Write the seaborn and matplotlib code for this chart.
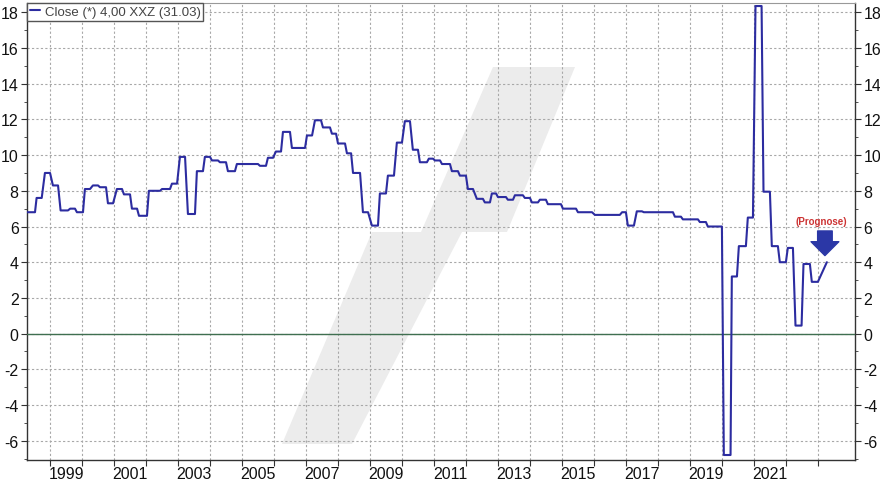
import matplotlib
matplotlib.use("Agg")
import matplotlib.pyplot as plt
import numpy as np
import pandas as pd
import seaborn as sns
from matplotlib.patches import Polygon
from matplotlib.ticker import FixedLocator, FixedFormatter, NullFormatter

# ---------------- data (decimal years, values) ----------------
level_start = [1998.27, 1998.58, 1998.84, 1999.09, 1999.33, 1999.63, 1999.84, 2000.09, 2000.34, 2000.56,
               2000.81, 2001.09, 2001.31, 2001.56, 2001.78, 2002.09, 2002.50, 2002.81, 2003.06, 2003.31,
               2003.59, 2003.84, 2004.06, 2004.31, 2004.56, 2004.84, 2005.56, 2005.81, 2006.06, 2006.28,
               2006.56, 2007.03, 2007.28, 2007.53, 2007.81, 2008.00, 2008.28, 2008.47, 2008.78, 2009.06,
               2009.31, 2009.56, 2009.84, 2010.09, 2010.34, 2010.56, 2010.84, 2011.03, 2011.25, 2011.56,
               2011.81, 2012.06, 2012.34, 2012.59, 2012.81, 2013.00, 2013.31, 2013.53, 2013.84, 2014.06,
               2014.31, 2014.56, 2015.03, 2015.50, 2016.03, 2016.88, 2017.06, 2017.34, 2017.56, 2018.53,
               2018.78, 2019.31, 2019.56, 2020.06, 2020.31, 2020.53, 2020.81, 2021.05, 2021.30, 2021.56,
               2021.81, 2022.06, 2022.30, 2022.55, 2022.81]
level_end = [1998.53, 1998.74, 1999.00, 1999.25, 1999.56, 1999.78, 2000.03, 2000.25, 2000.50, 2000.75,
             2000.97, 2001.25, 2001.50, 2001.72, 2002.03, 2002.44, 2002.75, 2002.97, 2003.22, 2003.53,
             2003.78, 2004.00, 2004.25, 2004.50, 2004.78, 2005.50, 2005.75, 2005.97, 2006.22, 2006.50,
             2006.97, 2007.19, 2007.47, 2007.75, 2007.94, 2008.22, 2008.41, 2008.69, 2008.94, 2009.25,
             2009.50, 2009.75, 2010.00, 2010.25, 2010.50, 2010.78, 2010.97, 2011.19, 2011.50, 2011.75,
             2012.00, 2012.22, 2012.53, 2012.75, 2012.94, 2013.25, 2013.47, 2013.78, 2014.00, 2014.25,
             2014.50, 2014.97, 2015.44, 2015.94, 2016.81, 2017.00, 2017.25, 2017.50, 2018.47, 2018.72,
             2019.25, 2019.50, 2020.00, 2020.27, 2020.47, 2020.75, 2020.97, 2021.24, 2021.50, 2021.75,
             2022.00, 2022.22, 2022.49, 2022.75, 2023.00]
level_value = [6.8, 7.6, 9.0, 8.3, 6.9, 7.0, 6.8, 8.1, 8.3, 8.2,
               7.3, 8.1, 7.8, 7.0, 6.6, 8.0, 8.1, 8.4, 9.9, 6.7,
               9.1, 9.9, 9.7, 9.6, 9.1, 9.5, 9.4, 9.85, 10.2, 11.3,
               10.4, 11.1, 11.95, 11.55, 11.2, 10.65, 10.1, 9.0, 6.8, 6.05,
               7.85, 8.85, 10.7, 11.9, 10.3, 9.6, 9.8, 9.7, 9.5, 9.1,
               8.85, 8.1, 7.55, 7.35, 7.85, 7.65, 7.5, 7.75, 7.6, 7.35,
               7.5, 7.25, 7.0, 6.8, 6.65, 6.8, 6.05, 6.85, 6.8, 6.55,
               6.4, 6.25, 6.0, -6.8, 3.2, 4.9, 6.5, 18.35, 7.95, 4.9,
               4.0, 4.8, 0.45, 3.9, 2.9]
forecast_date = [2023.28]
forecast_value = [4.0]

series_label = "Close (*) 4,00 XXZ (31.03)"
forecast_label = "(Prognose)"
year_ticks = list(range(1999, 2024))
year_labels = [str(y) for y in range(1999, 2022, 2)]
y_ticks = list(range(-6, 19, 2))

# build the step-like line from the levels
dates, values = [], []
for s, e, v in zip(level_start, level_end, level_value):
    dates += [s, e]
    values += [v, v]
dates += forecast_date
values += forecast_value
df = pd.DataFrame({"date": dates, "value": values})

# ---------------- style ----------------
sns.set_theme(style="white")
plt.rcParams["font.family"] = ["Liberation Sans", "DejaVu Sans"]
plt.rcParams["axes.unicode_minus"] = False

W, H = 880, 481
fig = plt.figure(figsize=(W / 100, H / 100), dpi=100)
L, R, T, B = 27, 855, 4, 461
ax = fig.add_axes([L / W, (H - B) / H, (R - L) / W, (B - T) / H])
ax.set_facecolor("white")
ax.set_axisbelow(True)

line_color = "#2c2ca0"

sns.lineplot(data=df, x="date", y="value", ax=ax, color=line_color, linewidth=1.5,
             estimator=None, sort=False, label=series_label, zorder=5)

ax.axhline(0, color="#3f6f50", linewidth=1.0, zorder=3)

ax.set_xlim(1998.28, 2024.16)
ax.set_ylim(-7.08, 18.52)

# watermark (decorative), in pixel coords converted to axes fractions
wm_px = [(493, 68), (575, 68), (507, 233), (462, 233), (352, 445), (282, 445), (372, 233), (421, 233)]
wm = [((x - L) / (R - L), (B - y) / (B - T)) for x, y in wm_px]
ax.add_patch(Polygon(wm, closed=True, transform=ax.transAxes, facecolor="#ececec",
                     edgecolor="none", zorder=0.2))

# ticks
ax.xaxis.set_major_locator(FixedLocator(year_ticks))
ax.xaxis.set_major_formatter(NullFormatter())
ax.xaxis.set_minor_locator(FixedLocator([int(y) + 0.5 for y in year_labels]))
ax.xaxis.set_minor_formatter(FixedFormatter(year_labels))
ax.tick_params(axis="x", which="major", direction="out", length=4, width=0.8,
               color="#333333", bottom=True)
ax.tick_params(axis="x", which="minor", length=0, labelsize=11.5, pad=4, labelcolor="#111111")

ax.yaxis.set_major_locator(FixedLocator(y_ticks))
ax.yaxis.set_minor_locator(FixedLocator(list(range(-7, 19))))
ax.tick_params(axis="y", which="both", left=True, right=True, labelleft=True, labelright=True,
               direction="out", color="#333333")
ax.tick_params(axis="y", which="major", length=4, width=0.8, labelsize=11.5, pad=2,
               labelcolor="#111111")
ax.tick_params(axis="y", which="minor", length=2, width=0.6)

ax.grid(True, which="major", color="#a8a8a8", linestyle=(0, (2, 2)), linewidth=0.8)
ax.set_xlabel("")
ax.set_ylabel("")

for side in ["left", "right", "bottom"]:
    ax.spines[side].set_color("#333333")
    ax.spines[side].set_linewidth(1.0)
ax.spines["top"].set_color("#999999")
ax.spines["top"].set_linewidth(0.8)

# legend
leg = ax.legend(loc="upper left", bbox_to_anchor=(0.0, 1.0), borderaxespad=0.0,
                frameon=True, fancybox=False, framealpha=1, edgecolor="#555555",
                fontsize=9.5, handlelength=0.8, handletextpad=0.35, borderpad=0.2,
                labelcolor="#444444")
leg.get_frame().set_linewidth(1.0)
for h in leg.get_lines():
    h.set_linewidth(1.5)

# forecast arrow and label
arrow_x = forecast_date[0] - 0.06
ax.annotate("", xy=(arrow_x, 4.37), xytext=(arrow_x, 5.75),
            arrowprops=dict(arrowstyle="simple,head_width=2.0,head_length=1.0,tail_width=1.05",
                            mutation_scale=10, color="#2b37a6", shrinkA=0, shrinkB=0),
            zorder=6)
ax.text(arrow_x - 0.12, 6.3, forecast_label, color="#cc3333", fontsize=7,
        fontweight="bold", ha="center", va="center", zorder=6)

fig.savefig("out.png", dpi=100)
